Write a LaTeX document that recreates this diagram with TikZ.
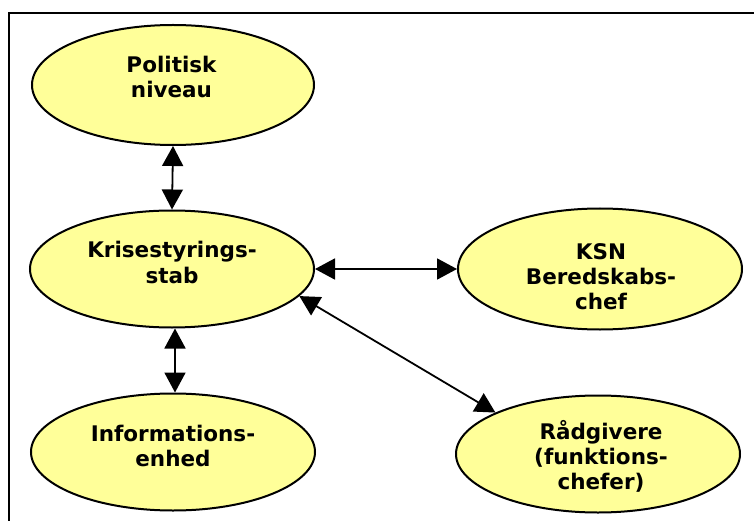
\documentclass[tikz,border=0pt]{standalone}
\usepackage{fontspec}
\setmainfont{DejaVu Sans}
\usetikzlibrary{arrows.meta,shapes.geometric}
\definecolor{bubbleyellow}{RGB}{255,255,153}
\begin{document}
\begin{tikzpicture}[x=1pt,y=-1pt,
  bubble/.style={ellipse, draw=black, line width=2pt, fill=bubbleyellow, inner sep=0pt},
  txt/.style={font=\fontsize{21.5}{25}\selectfont\bfseries, align=center, inner sep=0pt, anchor=base},
  link/.style={line width=1.8pt, {Triangle[length=20pt,width=21pt]}-{Triangle[length=20pt,width=21pt]}}]
\useasboundingbox (0,0) rectangle (754,521);
\draw[line width=2pt] (9,521) -- (9,13.5) -- (754,13.5);
\node[bubble, minimum width=282pt, minimum height=120pt] (pol) at (173,85) {};
\node[bubble, minimum width=284pt, minimum height=117pt] (kris) at (172,269) {};
\node[bubble, minimum width=284pt, minimum height=121pt] (ksn) at (600,269) {};
\node[bubble, minimum width=284pt, minimum height=117pt] (info) at (173,452) {};
\node[bubble, minimum width=284pt, minimum height=117pt] (rad) at (598,454) {};
\node[txt] (polT) at (171.5,98) {Politisk\\niveau};
\node[txt] (krisT) at (172,283) {Krisestyrings-\\stab};
\node[txt] (ksnT) at (601,309) {KSN\\Beredskabs-\\chef};
\node[txt] (infoT) at (173,466) {Informations-\\enhed};
\node[txt] (radT) at (601,489) {Rådgivere\\(funktions-\\chefer)};
\draw[link] (pol.south) -- (kris.north);
\draw[link] ([xshift=3pt]kris.south) -- ([xshift=2pt]info.north);
\draw[link] (kris.east) -- (ksn.west);
\draw[link] (kris.-12) -- (rad.158);
\end{tikzpicture}
\end{document}
